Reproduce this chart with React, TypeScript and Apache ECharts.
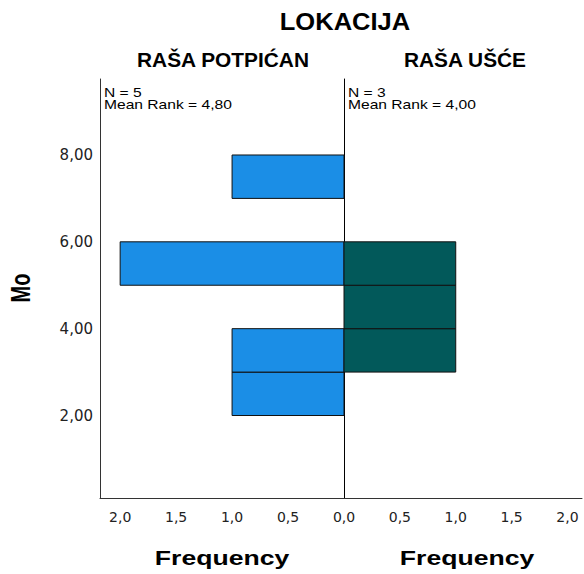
import React, { useEffect, useRef } from "react";
import * as echarts from "echarts";

const mainTitle = "LOKACIJA";
const groupNames = ["RAŠA POTPIĆAN", "RAŠA UŠĆE"];
const groupN = [5, 3];
const groupMeanRank = ["4,80", "4,00"];
const binLows = [2, 3, 4, 5, 6, 7];
const binWidth = 1;
const leftCounts = [1, 1, 0, 2, 0, 1];
const rightCounts = [0, 1, 1, 1, 0, 0];
const yTickValues = [2, 4, 6, 8];
const yAxisTitle = "Mo";
const xAxisTitle = "Frequency";
const leftColor = "#1b8ee6";
const rightColor = "#02595a";

const fmtComma = (v: number, d: number) => v.toFixed(d).replace(".", ",");

function buildData(counts: number[]) {
  const out: number[][] = [];
  counts.forEach((c, i) => {
    if (c > 0) out.push([binLows[i], binLows[i] + binWidth, c]);
  });
  return out;
}

function makeRender(color: string) {
  return (params: any, api: any) => {
    const lo = api.value(0);
    const hi = api.value(1);
    const c = api.value(2);
    const p0 = api.coord([0, hi]);
    const p1 = api.coord([c, lo]);
    const x = Math.min(p0[0], p1[0]);
    const y = Math.min(p0[1], p1[1]);
    return {
      type: "rect",
      shape: { x, y, width: Math.abs(p1[0] - p0[0]), height: Math.abs(p1[1] - p0[1]) },
      style: { fill: color, stroke: "#111", lineWidth: 1 },
    };
  };
}

export default function App() {
  const ref = useRef<HTMLDivElement>(null);
  useEffect(() => {
    if (!ref.current) return;
    const chart = echarts.init(ref.current, undefined, { renderer: "svg" });
    const tickFont = "DejaVu Sans";
    const titleFont = "Liberation Sans, Arial, sans-serif";
    const yLabelFmt = (v: number) => {
      const r = Math.round(v);
      if (Math.abs(v - r) < 1e-6 && yTickValues.indexOf(r) >= 0) return fmtComma(r, 2);
      return "";
    };
    const xAxisCommon = {
      type: "value",
      min: 0,
      interval: 0.5,
      axisLine: { show: true, onZero: false, lineStyle: { color: "#333", width: 1 } },
      axisTick: { show: false },
      splitLine: { show: false },
      axisLabel: {
        color: "#222",
        fontFamily: tickFont,
        fontSize: 14,
        margin: 12,
        formatter: (v: number) => fmtComma(v, 1),
      },
    };
    const yAxisCommon = {
      type: "value",
      min: 0.1,
      max: 9.75,
      interval: 0.1,
      axisTick: { show: false },
      splitLine: { show: false },
    };
    const titleText = (text: string, x: number, y: number, size: number, sx: number) => ({
      type: "text",
      x,
      y,
      scaleX: sx,
      style: {
        text,
        fontFamily: titleFont,
        fontWeight: "bold",
        fontSize: size,
        fill: "#000",
        align: "center",
        verticalAlign: "middle",
      },
    });
    const smallText = (text: string, x: number, y: number) => ({
      type: "text",
      x,
      y,
      scaleX: 1.25,
      style: {
        text,
        fontFamily: titleFont,
        fontSize: 12.5,
        fill: "#000",
        align: "left",
        verticalAlign: "top",
      },
    });
    chart.setOption({
      animation: false,
      grid: [
        { left: 100, top: 79, width: 244, height: 419 },
        { left: 344, top: 79, width: 238, height: 419 },
      ],
      xAxis: [
        {
          ...xAxisCommon,
          gridIndex: 0,
          inverse: true,
          max: 2.18,
          axisLabel: { ...xAxisCommon.axisLabel, showMaxLabel: false },
        },
        {
          ...xAxisCommon,
          gridIndex: 1,
          max: 2.13,
          axisLabel: { ...xAxisCommon.axisLabel, showMinLabel: false, showMaxLabel: false },
        },
      ],
      yAxis: [
        {
          ...yAxisCommon,
          gridIndex: 0,
          position: "left",
          axisLine: { show: true, onZero: false, lineStyle: { color: "#333", width: 1 } },
          axisLabel: {
            color: "#222",
            fontFamily: tickFont,
            fontSize: 15,
            margin: 7,
            padding: [6, 0, 0, 0],
            formatter: yLabelFmt,
          },
        },
        {
          ...yAxisCommon,
          gridIndex: 1,
          position: "left",
          axisLine: { show: true, onZero: false, lineStyle: { color: "#000", width: 1 } },
          axisLabel: { show: false },
        },
      ],
      series: [
        {
          type: "custom",
          xAxisIndex: 0,
          yAxisIndex: 0,
          renderItem: makeRender(leftColor),
          encode: { x: 2, y: [0, 1] },
          data: buildData(leftCounts),
        },
        {
          type: "custom",
          xAxisIndex: 1,
          yAxisIndex: 1,
          renderItem: makeRender(rightColor),
          encode: { x: 2, y: [0, 1] },
          data: buildData(rightCounts),
        },
      ],
      graphic: [
        titleText(mainTitle, 345, 22, 23, 1.11),
        titleText(groupNames[0], 223, 60, 19.5, 1.07),
        titleText(groupNames[1], 465, 60, 19.5, 1.07),
        smallText("N = " + groupN[0], 104, 86),
        smallText("Mean Rank = " + groupMeanRank[0], 104, 98),
        smallText("N = " + groupN[1], 348, 86),
        smallText("Mean Rank = " + groupMeanRank[1], 348, 98),
        {
          type: "text",
          x: 20,
          y: 288,
          rotation: Math.PI / 2,
          scaleY: 1.4,
          style: {
            text: yAxisTitle,
            fontFamily: titleFont,
            fontWeight: "bold",
            fontSize: 20,
            fill: "#000",
            align: "center",
            verticalAlign: "middle",
          },
        },
        titleText(xAxisTitle, 222, 558, 20, 1.33),
        titleText(xAxisTitle, 467, 558, 20, 1.33),
      ],
    });
    return () => chart.dispose();
  }, []);
  return (
    <div
      ref={ref}
      style={{ position: "absolute", left: 0, top: 0, width: 584, height: 574, background: "#fff" }}
    />
  );
}
